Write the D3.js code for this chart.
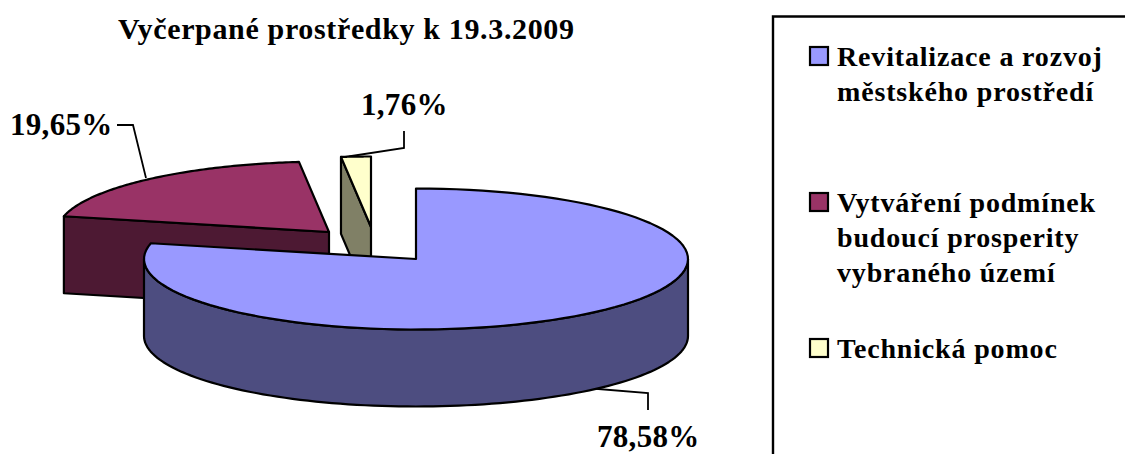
<!DOCTYPE html>
<html><head><meta charset="utf-8">
<script src="https://cdn.jsdelivr.net/npm/d3@7/dist/d3.min.js"></script>
<style>html,body{margin:0;padding:0;background:#fff}svg{display:block}
text{font-family:"Liberation Serif",serif;font-weight:bold;fill:#000}</style>
</head><body><svg id="c" width="1125" height="454"></svg>
<script>
const titleText = "Vyčerpané prostředky k 19.3.2009";
const categories = ["Revitalizace a rozvoj městského prostředí","Vytváření podmínek budoucí prosperity vybraného území","Technická pomoc"];
const legendLines = [["Revitalizace a rozvoj","městského prostředí"],["Vytváření podmínek","budoucí prosperity","vybraného území"],["Technická pomoc"]];
const values = [78.58,19.65,1.76];
const labels = ["78,58%","19,65%","1,76%"];
const topColors = ["#9999ff","#993366","#ffffcc"];
const sideColors = ["#4d4d80","#4d1933","#808066"];

// layout
const rx=272, ry=70.5, depth=77;
const apexes=[[416,259],[329,232],[371,227]];
const leaders=[[[586,388],[648,393],[648,410]],[[117,125],[133,125],[146,178]],[[345,157],[404,148],[404,131]]];
const labelPos=[[597,447],[10,135],[361,115]];

const svg=d3.select("#c");
const arcs=d3.pie().sort(null).value(d=>d)(values);
const pt=(c,a,dy=0)=>[c[0]+rx*Math.sin(a),c[1]-ry*Math.cos(a)+dy];
const line=d3.line().curve(d3.curveLinear);
const sample=(c,a0,a1,dy=0)=>d3.range(0,101).map(i=>pt(c,a0+(a1-a0)*i/100,dy));
function P(d,fill){return svg.append("path").attr("d",d).attr("fill",fill).attr("stroke","#000").attr("stroke-width",2.2).attr("stroke-linejoin","round");}

// leaders first
const leaderG=svg.append("g");
leaders.forEach(l=>leaderG.append("path").attr("d",line(l)).attr("fill","none").attr("stroke","#000").attr("stroke-width",1.8));

// red and yellow (back slices), then blue
[1,2,0].forEach(i=>{
  const c=apexes[i],a=arcs[i],a0=a.startAngle,a1=a.endAngle;
  if(i===1||i===2){
    const s=pt(c,a0);
    P(line([s,c,[c[0],c[1]+depth],[s[0],s[1]+depth]])+"Z",sideColors[i]);
  }
  if(i===0){
    const h0=Math.PI/2,h1=3*Math.PI/2;
    P(line(sample(c,h0,h1).concat(sample(c,h1,h0,depth)))+"Z",sideColors[i]);
  }
  P(line([c].concat(sample(c,a0,a1)))+"Z",topColors[i]);
});

// title
svg.append("text").attr("x",118).attr("y",39).attr("font-size",30).attr("letter-spacing",0.65).text(titleText);

// data labels
labels.forEach((t,i)=>svg.append("text").attr("x",labelPos[i][0]).attr("y",labelPos[i][1]).attr("font-size",31).attr("letter-spacing",0.3).text(t));

// legend
svg.append("path").attr("d","M773,454V16.5H1125").attr("fill","none").attr("stroke","#000").attr("stroke-width",2.4);
const legendY=[66,212,358];
legendLines.forEach((ls,i)=>{
  svg.append("rect").attr("x",810).attr("y",legendY[i]-19).attr("width",18).attr("height",18).attr("fill",topColors[i]).attr("stroke","#000").attr("stroke-width",2.2);
  ls.forEach((t,j)=>svg.append("text").attr("x",837).attr("y",legendY[i]+j*35).attr("font-size",28).attr("letter-spacing",0.83).text(t));
});
</script></body></html>
